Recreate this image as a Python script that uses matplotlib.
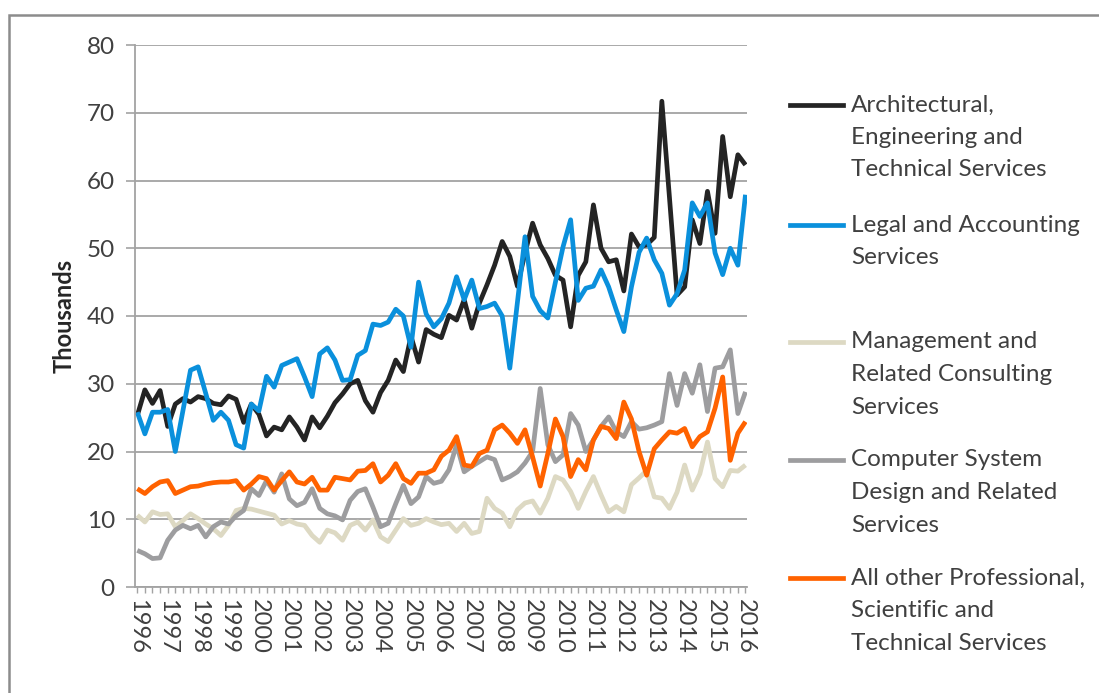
import matplotlib.pyplot as plt
import numpy as np
from matplotlib.lines import Line2D
from matplotlib.patches import Rectangle

plt.rcParams['font.family'] = ['Lato', 'DejaVu Sans']

# quarterly values, 1996 Q1 .. 2016 Q1 (thousands)
years = [str(y) for y in range(1996, 2017)]

architectural = [25.3, 29.1, 27.1, 29.0, 23.7, 27.0, 27.8, 27.3, 28.1, 27.8, 27.1, 26.9,
                 28.2, 27.7, 24.3, 27.0, 25.5, 22.3, 23.6, 23.2, 25.1, 23.6, 21.7, 25.1,
                 23.5, 25.2, 27.2, 28.5, 30.0, 30.5, 27.5, 25.8, 28.7, 30.5, 33.5, 31.8,
                 37.0, 33.2, 38.0, 37.3, 36.8, 40.1, 39.4, 42.4, 38.2, 41.9, 44.6, 47.5,
                 51.0, 48.8, 44.4, 49.3, 53.7, 50.5, 48.5, 46.0, 45.3, 38.4, 46.0, 48.0,
                 56.4, 50.0, 48.0, 48.3, 43.7, 52.1, 50.2, 50.5, 51.6, 71.7, 57.5, 43.1,
                 44.3, 54.2, 50.7, 58.4, 52.2, 66.5, 57.6, 63.8, 62.3]

legal = [25.8, 22.6, 25.8, 25.8, 26.2, 20.0, 26.0, 32.0, 32.5, 28.6, 24.6, 25.8,
         24.6, 21.0, 20.5, 27.0, 26.0, 31.1, 29.5, 32.7, 33.2, 33.7, 31.0, 28.1,
         34.4, 35.3, 33.5, 30.5, 30.6, 34.2, 34.9, 38.8, 38.6, 39.1, 41.0, 40.0,
         35.4, 45.0, 40.3, 38.4, 39.6, 41.9, 45.8, 42.4, 45.3, 41.1, 41.4, 41.9,
         40.0, 32.3, 42.0, 51.7, 42.9, 40.8, 39.7, 45.0, 50.2, 54.2, 42.3, 44.1,
         44.4, 46.8, 44.3, 40.9, 37.7, 44.3, 49.4, 51.5, 48.3, 46.3, 41.6, 43.3,
         46.8, 56.7, 54.7, 56.7, 49.3, 46.1, 50.0, 47.5, 57.9]

management = [10.6, 9.6, 11.1, 10.7, 10.8, 8.9, 9.8, 10.8, 10.1, 9.3, 8.6, 7.6,
              9.1, 11.3, 11.6, 11.5, 11.2, 10.9, 10.6, 9.3, 9.8, 9.3, 9.1, 7.6,
              6.6, 8.4, 8.0, 6.9, 9.1, 9.6, 8.4, 9.9, 7.4, 6.7, 8.4, 10.1,
              9.1, 9.4, 10.1, 9.6, 9.2, 9.4, 8.2, 9.4, 7.9, 8.2, 13.1, 11.6,
              10.9, 8.9, 11.4, 12.4, 12.7, 10.9, 13.1, 16.3, 15.8, 14.1, 11.6, 14.1,
              16.3, 13.6, 11.1, 11.9, 11.1, 15.1, 16.1, 17.2, 13.3, 13.1, 11.6, 14.0,
              18.0, 14.3, 16.7, 21.4, 16.0, 14.8, 17.2, 17.1, 18.0]

computer = [5.4, 4.9, 4.2, 4.3, 6.9, 8.4, 9.1, 8.6, 9.1, 7.4, 8.9, 9.6,
            9.3, 10.5, 11.3, 14.5, 13.5, 15.7, 14.0, 16.7, 13.0, 12.0, 12.5, 14.5,
            11.6, 10.8, 10.5, 9.9, 12.8, 14.1, 14.5, 11.8, 8.9, 9.4, 12.3, 15.0,
            12.3, 13.3, 16.3, 15.3, 15.6, 17.3, 21.0, 17.0, 17.8, 18.5, 19.2, 18.8,
            15.8, 16.3, 17.0, 18.3, 20.0, 29.3, 21.0, 18.5, 19.5, 25.6, 23.9, 20.0,
            21.7, 23.7, 25.1, 22.9, 22.2, 24.4, 23.3, 23.5, 23.9, 24.4, 31.5, 26.8,
            31.5, 28.6, 32.8, 25.9, 32.3, 32.5, 35.0, 25.6, 28.8]

other = [14.5, 13.8, 14.8, 15.5, 15.7, 13.8, 14.3, 14.8, 14.9, 15.2, 15.4, 15.5,
         15.5, 15.7, 14.3, 15.2, 16.3, 16.0, 14.3, 15.7, 17.0, 15.5, 15.2, 16.2,
         14.3, 14.3, 16.2, 16.0, 15.8, 17.1, 17.2, 18.2, 15.5, 16.5, 18.2, 16.0,
         15.3, 16.8, 16.8, 17.3, 19.3, 20.2, 22.2, 18.0, 17.8, 19.7, 20.2, 23.2,
         23.9, 22.7, 21.2, 23.2, 19.2, 14.9, 19.7, 24.8, 22.2, 16.3, 18.8, 17.3,
         21.7, 23.7, 23.4, 21.9, 27.3, 24.8, 20.0, 16.5, 20.4, 21.7, 22.9, 22.7,
         23.4, 20.7, 22.2, 22.9, 26.4, 31.0, 18.7, 22.7, 24.4]

series = [
    ("Architectural,\nEngineering and\nTechnical Services", architectural, "#242424"),
    ("Legal and Accounting\nServices", legal, "#0a90dc"),
    ("Management and\nRelated Consulting\nServices", management, "#ddd9c3"),
    ("Computer System\nDesign and Related\nServices", computer, "#9d9d9f"),
    ("All other Professional,\nScientific and\nTechnical Services", other, "#ff6200"),
]

W, H = 1099, 693
fig = plt.figure(figsize=(W / 100, H / 100), dpi=100)
ax = fig.add_axes([135 / W, 1 - 587 / H, (747 - 135) / W, (587 - 45) / H])

x = np.arange(len(architectural))
for label, vals, color in series:
    ax.plot(x, vals, color=color, lw=3.4, solid_joinstyle='round', solid_capstyle='butt')

grid_c = '#a3a3a3'
text_c = '#404040'
ax.set_ylim(0, 80)
ax.set_xlim(-0.3, 80.2)
ax.set_yticks(range(0, 81, 10))
ax.yaxis.grid(True, color=grid_c, lw=1.3)
ax.set_axisbelow(True)
for s in ['top', 'right']:
    ax.spines[s].set_visible(False)
for s in ['left', 'bottom']:
    ax.spines[s].set_color(grid_c)
    ax.spines[s].set_linewidth(1.3)

ax.tick_params(axis='y', length=6.5, width=1.2, color=grid_c, labelsize=17.5,
               labelcolor=text_c, pad=8)
ax.set_xticks(range(0, 81, 4))
ax.set_xticklabels(years, rotation=-90, va='top', ha='center')
ax.set_xticks(range(81), minor=True)
ax.tick_params(axis='x', which='both', length=4.5, width=1.0, color=grid_c)
ax.tick_params(axis='x', labelsize=17, labelcolor=text_c, pad=4)

ax.set_ylabel('Thousands', fontsize=17, fontweight='bold', color='#262626', labelpad=8)

# legend drawn by hand, Excel style (key aligned with first text line)
tops = [105, 225, 342, 460, 578]
line_gap = 32.5
for (label, vals, color), ty in zip(series, tops):
    yf = 1 - ty / H
    fig.add_artist(Line2D([790 / W, 843 / W], [yf, yf], color=color, lw=3.4,
                          transform=fig.transFigure))
    for k, part in enumerate(label.split('\n')):
        fig.text(851 / W, 1 - (ty + k * line_gap) / H, part, fontsize=17.5,
                 color=text_c, va='center', ha='left')

# chart border
fig.add_artist(Rectangle((9 / W, -0.1), 1.2, 1.1 - 15 / H, transform=fig.transFigure,
                         fill=False, edgecolor='#8c8c8c', lw=1.8))

fig.savefig('out.png', dpi=100)
